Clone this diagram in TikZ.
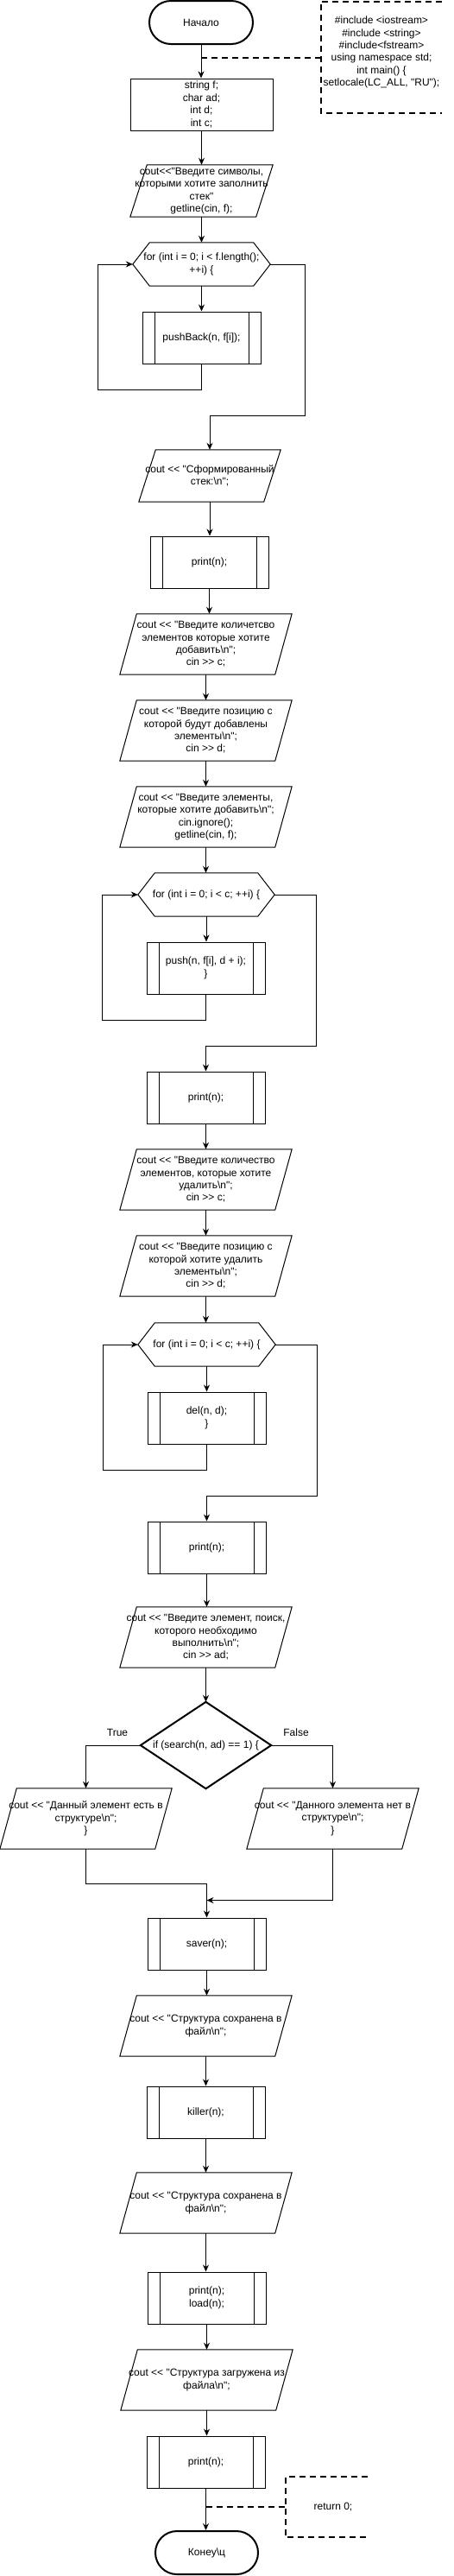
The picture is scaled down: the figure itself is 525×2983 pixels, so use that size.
\documentclass[tikz,border=0pt]{standalone}
\usepackage{fontspec}
\newfontfamily\mf{Liberation Sans}
\usetikzlibrary{arrows.meta,calc}
\begin{document}
\begin{tikzpicture}[x=1pt,y=-1pt,
  base/.style={inner sep=0pt, align=center, font=\mf\fontsize{12pt}{14.4pt}\selectfont},
  term/.style={base, draw, line width=2pt, rounded corners=25pt, minimum width=120pt, minimum height=50pt},
  plainbox/.style={base, draw, line width=1pt},
  procbox/.style={base, draw, line width=1pt, minimum width=137pt, minimum height=60pt,
    path picture={\draw[line width=1pt]
      ([xshift=14pt]path picture bounding box.north west) -- ([xshift=14pt]path picture bounding box.south west)
      ([xshift=-14pt]path picture bounding box.north east) -- ([xshift=-14pt]path picture bounding box.south east);}},
  databox/.style={base, minimum width=199pt, minimum height=70pt},
  hexbox/.style={base, minimum width=159pt, minimum height=50pt},
  shapeline/.style={line width=1pt, line join=miter},
  conn/.style={draw, line width=1pt, -{Stealth[length=8pt,width=7pt]}},
  annot/.style={line width=2pt, dash pattern=on 7pt off 5pt},
  dashconn/.style={line width=2pt, dash pattern=on 7pt off 5pt},
]
\fill[white] (0,0) rectangle (525,2983);
\useasboundingbox (0,0) rectangle (525,2983);

% nodes
\node[term] (start) at (233,26) {Начало};
\node[plainbox, minimum width=165pt, minimum height=60pt] (decl) at (233.5,121) {string f;\\ char ad;\\ int d;\\ int c;};
\node[databox, minimum width=165pt, minimum height=60pt] (p1) at (233.5,221) {cout<<"Введите символы,\\ которыми хотите заполнить\\ стек"\\ getline(cin, f);};
\node[hexbox] (h1) at (233.5,306) {for (int i = 0; i < f.length();\\ ++i) \{};
\node[procbox] (pb) at (233.5,391) {pushBack(n, f[i]);};
\node[databox, minimum width=164pt, minimum height=60pt] (p2) at (243,551) {cout << "Сформированный\\ стек:\textbackslash n";};
\node[procbox] (pr1) at (242.5,651) {print(n);};
\node[databox] (p3) at (238.5,746) {cout << "Введите количетсво\\ элементов которые хотите\\ добавить\textbackslash n";\\ cin >> c;};
\node[databox] (p4) at (238.5,846) {cout << "Введите позицию с\\ которой будут добавлены\\ элементы\textbackslash n";\\ cin >> d;};
\node[databox] (p5) at (238.5,946) {cout << "Введите элементы,\\ которые хотите добавить\textbackslash n";\\ cin.ignore();\\ getline(cin, f);};
\node[hexbox, minimum width=158pt] (h2) at (239,1036) {for (int i = 0; i < c; ++i) \{};
\node[procbox] (push) at (238.5,1121) {push(n, f[i], d + i);\\ \}};
\node[procbox] (pr2) at (238.5,1271) {print(n);};
\node[databox] (p6) at (238.5,1366) {cout << "Введите количество\\ элементов, которые хотите\\ удалить\textbackslash n";\\ cin >> c;};
\node[databox] (p7) at (238.5,1466) {cout << "Введите позицию с\\ которой хотите удалить\\ элементы\textbackslash n";\\ cin >> d;};
\node[hexbox] (h3) at (239.5,1557) {for (int i = 0; i < c; ++i) \{};
\node[procbox] (del) at (239.5,1642) {del(n, d);\\ \}};
\node[procbox] (pr3) at (239.5,1792) {print(n);};
\node[databox] (p8) at (238.5,1896) {cout << "Введите элемент, поиск,\\ которого необходимо\\ выполнить\textbackslash n";\\ cin >> ad;};
\node[base, minimum width=151pt, minimum height=100pt] (dia) at (238.5,2021) {if (search(n, ad) == 1) \{};
\node[base] (tlab) at (136,2006) {True};
\node[base] (flab) at (343,2006) {False};
\node[databox] (pL) at (99.5,2106) {cout << "Данный элемент есть в\\ структуре\textbackslash n";\\ \}};
\node[databox] (pR) at (385.5,2106) {cout << "Данного элемента нет в\\ структуре\textbackslash n";\\ \}};
\node[procbox] (saver) at (239.5,2251) {saver(n);};
\node[databox] (p9) at (238.5,2346) {cout << "Структура сохранена в\\ файл\textbackslash n";};
\node[procbox] (killer) at (238.5,2446) {killer(n);};
\node[databox] (p10) at (238.5,2551) {cout << "Структура сохранена в\\ файл\textbackslash n";};
\node[procbox] (pl) at (239.5,2661) {print(n);\\ load(n);};
\node[databox] (p11) at (239.5,2756) {cout << "Структура загружена из\\ файла\textbackslash n";};
\node[procbox] (pr4) at (238.5,2851) {print(n);};
\node[term, minimum width=119pt] (end) at (239.5,2956) {Конеу\textbackslash ц};

\node[base, minimum width=140pt, minimum height=129pt] (ann1) at (442,66.5) {\#include <iostream>\\ \#include <string>\\ \#include<fstream>\\ using namespace std;\\ int main() \{\\ setlocale(LC\_ALL, "RU");\\ \mbox{}};
\node[base, minimum width=110pt, minimum height=70pt] (ann2) at (386,2903) {return 0;};

% shapes
\foreach \n in {p1,p2,p3,p4,p5,p6,p7,p8,pL,pR,p9,p10,p11}
  \draw[shapeline] ([xshift=19.5pt]\n.north west) -- (\n.north east) -- ([xshift=-19.5pt]\n.south east) -- (\n.south west) -- cycle;
\foreach \n in {h1,h2,h3}
  \draw[shapeline] ([xshift=19.5pt]\n.north west) -- ([xshift=-19.5pt]\n.north east) -- (\n.east) -- ([xshift=-19.5pt]\n.south east) -- ([xshift=19.5pt]\n.south west) -- (\n.west) -- cycle;
\draw[line width=2pt] (dia.north) -- (dia.east) -- (dia.south) -- (dia.west) -- cycle;

% annotations
\draw[annot] (ann1.north east) -- (ann1.north west) -- (ann1.south west) -- (ann1.south east);
\draw[annot] ([xshift=95pt]ann2.north west) -- (ann2.north west) -- (ann2.south west) -- ([xshift=95pt]ann2.south west);
\draw[dashconn] (start.south |- ann1.west) -- (ann1.west);
\draw[dashconn] (pr4.south |- ann2.west) -- (ann2.west);

% straight connectors
\foreach \a/\b in {start/decl, decl/p1, p1/h1, h1/pb, p2/pr1, pr1/p3, p3/p4, p4/p5, p5/h2, h2/push, pr2/p6, p6/p7, p7/h3, h3/del, pr3/p8, p8/dia, saver/p9, p9/killer, killer/p10, p10/pl, pl/p11, p11/pr4, pr4/end}
  \draw[conn] (\a.south) -- (\a.south |- \b.north);

% loops
\draw[conn] (pb.south) -- ++(0,30) -| ([xshift=-40pt]h1.west) -- (h1.west);
\draw[conn] (h1.east) -| ++(40,175) -| (p2.north);
\draw[conn] (push.south) -- ++(0,30) -| ([xshift=-41pt]h2.west) -- (h2.west);
\draw[conn] (h2.east) -| ++(48,175) -| (pr2.north);
\draw[conn] (del.south) -- ++(0,30) -| ([xshift=-40pt]h3.west) -- (h3.west);
\draw[conn] (h3.east) -| ++(48,175) -| (pr3.north);

% branches
\draw[conn] (dia.west) -| (pL.north);
\draw[conn] (dia.east) -| (pR.north);
\draw[conn] (pL.south) -- ++(0,40) -| (saver.north);
\draw[conn] (pR.south) |- ([yshift=20pt]saver.north);
\end{tikzpicture}
\end{document}
